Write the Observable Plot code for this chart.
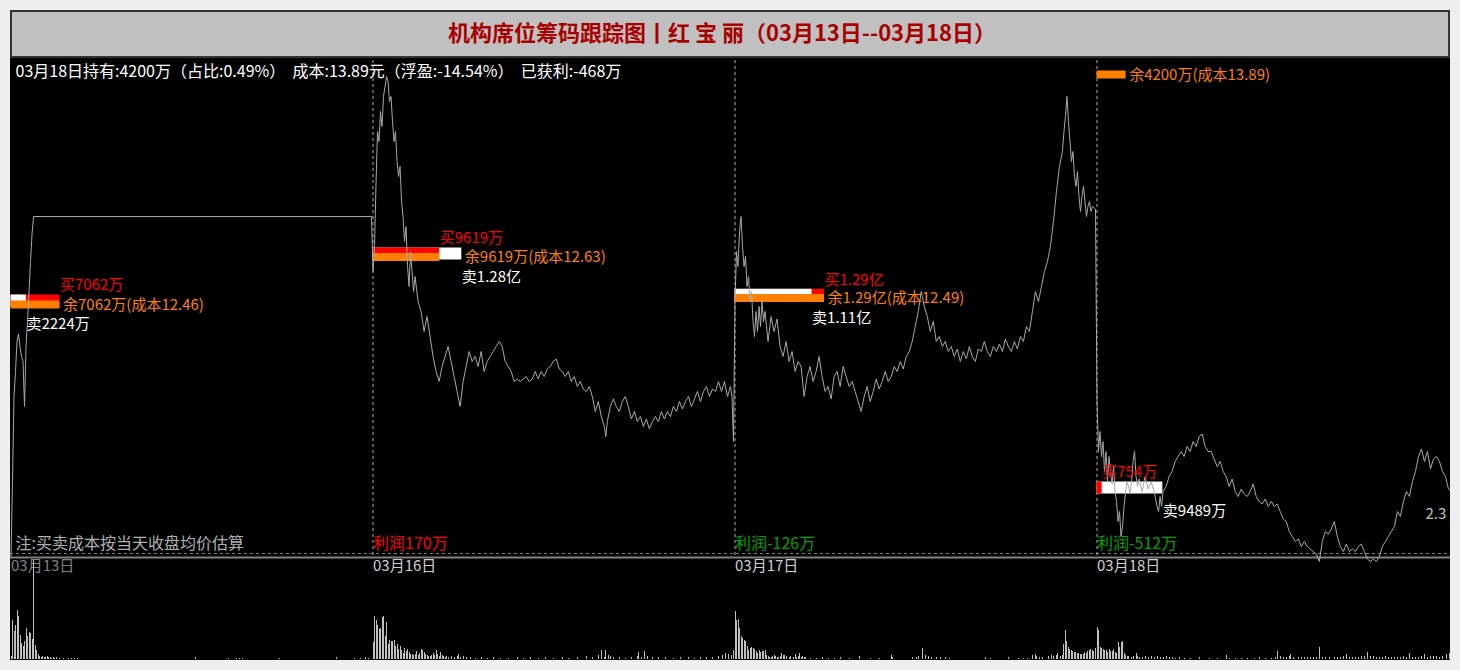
<!DOCTYPE html>
<html><head><meta charset="utf-8">
<script src="https://cdn.jsdelivr.net/npm/d3@7"></script>
<script src="https://cdn.jsdelivr.net/npm/@observablehq/plot@0.6"></script>
<style>
html,body{margin:0;padding:0;background:#efefef;width:1460px;height:670px;overflow:hidden;font-family:'Noto Sans CJK SC',sans-serif;}
#frame{position:absolute;left:10px;top:10px;width:1440px;height:650px;background:#000;overflow:hidden;}
#title{position:absolute;left:0;top:0;width:1440px;height:48px;box-sizing:border-box;border:2px solid #333;background:#c0c0c0;color:#a80000;font-size:22px;font-weight:bold;text-align:center;line-height:38px;padding-right:16px;z-index:3;white-space:pre;}
#price{position:absolute;left:0;top:42px;z-index:1;}
#vol{position:absolute;left:0;top:545px;z-index:2;}
</style></head>
<body>
<div id="frame">
  <div id="title"></div>
  <div id="price"></div>
  <div id="vol"></div>
</div>
<script>
const titleText = "机构席位筹码跟踪图丨红 宝 丽（03月13日--03月18日）";
const summaryText = "03月18日持有:4200万（占比:0.49%）  成本:13.89元（浮盈:-14.54%）  已获利:-468万";
const noteText = "注:买卖成本按当天收盘均价估算";
const edgeText = "2.3";
const dayLabels = ["03月13日", "03月16日", "03月17日", "03月18日"];

// institutional seat activity per day (万元)
const buyAmt  = [7062, 9619, 12900, 754];
const sellAmt = [2224, 12800, 11100, 9489];
const holdAmt = [7062, 9619, 12900, 4200];
const holdCost = [12.46, 12.63, 12.49, 13.89];
const tradeLevel = [12.424, 12.612, 12.447, 11.676];
const holdLevel  = [12.408, 12.598, 12.434, 13.328];
const profit = [null, 170, -126, -512];
const refPrice = 11.412;
const priceFloor = 11.396;
const priceTop = 13.384;

// intraday price [minute, price]
const day1Price = [[0,11.40],[1,11.70],[2,12.04],[3,12.14],[4,12.26],[5,12.29],[6,12.24],[7,12.20],[8,12.18],[9,12.00],[10,12.24],[11,12.34],[12,12.46],[13,12.58],[14,12.69],[15,12.76],[240,12.76]];
const day2Price = [[0,12.54],[1,12.64],[2,12.89],[3,13.10],[4,13.06],[5,13.18],[6,13.12],[7,13.24],[8,13.28],[9,13.32],[10,13.30],[11,13.22],[12,13.24],[13,13.14],[14,13.06],[15,13.10],[16,12.98],[17,12.92],[18,12.96],[19,12.82],[20,12.76],[21,12.66],[22,12.72],[23,12.56],[24,12.48],[25,12.62],[26,12.54],[27,12.46],[28,12.52],[30,12.42],[32,12.38],[34,12.30],[36,12.36],[38,12.28],[40,12.20],[42,12.14],[44,12.10],[46,12.16],[48,12.20],[50,12.24],[52,12.18],[54,12.12],[56,12.06],[58,12.00],[60,12.10],[62,12.16],[64,12.22],[66,12.18],[68,12.20],[70,12.16],[72,12.22],[74,12.14],[76,12.18],[78,12.20],[80,12.22],[82,12.24],[84,12.26],[86,12.24],[88,12.18],[90,12.16],[92,12.14],[94,12.10],[96,12.11],[98,12.10],[100,12.11],[102,12.12],[104,12.10],[106,12.11],[108,12.14],[110,12.11],[112,12.14],[114,12.12],[116,12.15],[118,12.16],[120,12.18],[122,12.19],[124,12.15],[126,12.14],[128,12.12],[130,12.14],[132,12.10],[134,12.12],[136,12.08],[138,12.10],[140,12.07],[142,12.06],[144,12.08],[146,12.04],[148,11.98],[150,12.02],[152,11.96],[154,11.92],[155,11.88],[156,11.94],[158,12.00],[160,12.03],[162,12.00],[164,11.98],[166,12.02],[168,12.04],[170,12.00],[172,11.95],[174,11.98],[176,11.94],[178,11.96],[180,11.92],[182,11.95],[184,11.91],[186,11.94],[188,11.96],[190,11.94],[192,11.98],[194,11.95],[196,11.98],[198,11.96],[200,12.00],[202,11.98],[204,12.02],[206,11.99],[208,12.02],[210,12.04],[212,12.00],[214,12.03],[216,12.06],[218,12.02],[220,12.06],[222,12.08],[224,12.04],[226,12.07],[228,12.06],[230,12.10],[232,12.06],[234,12.10],[236,12.04],[238,12.08],[239,12.04],[240,11.86]];
const day3Price = [[0,12.42],[1,12.62],[2,12.56],[3,12.70],[4,12.76],[5,12.64],[6,12.56],[7,12.60],[8,12.48],[9,12.52],[10,12.42],[11,12.46],[12,12.34],[13,12.28],[14,12.38],[15,12.30],[16,12.40],[17,12.32],[18,12.42],[19,12.34],[20,12.38],[22,12.26],[24,12.36],[26,12.30],[28,12.35],[30,12.24],[32,12.20],[34,12.26],[36,12.18],[38,12.22],[40,12.14],[42,12.18],[44,12.16],[46,12.04],[48,12.12],[50,12.16],[52,12.10],[54,12.14],[56,12.20],[58,12.12],[60,12.06],[62,12.08],[64,12.03],[66,12.12],[68,12.14],[70,12.08],[72,12.16],[74,12.12],[76,12.08],[78,12.10],[80,12.06],[82,12.02],[84,11.98],[86,12.04],[88,12.08],[90,12.02],[92,12.06],[94,12.11],[96,12.07],[98,12.10],[100,12.14],[102,12.10],[104,12.12],[106,12.16],[108,12.14],[110,12.18],[112,12.15],[114,12.20],[116,12.22],[118,12.26],[120,12.32],[122,12.38],[124,12.46],[126,12.40],[128,12.36],[130,12.30],[132,12.34],[134,12.26],[136,12.28],[138,12.24],[140,12.26],[142,12.22],[144,12.24],[146,12.20],[148,12.23],[150,12.18],[152,12.22],[154,12.19],[156,12.24],[158,12.20],[160,12.18],[162,12.23],[164,12.22],[166,12.26],[168,12.22],[170,12.20],[172,12.24],[174,12.22],[176,12.25],[178,12.22],[180,12.27],[182,12.24],[184,12.22],[186,12.26],[188,12.23],[190,12.28],[192,12.26],[194,12.32],[196,12.30],[198,12.38],[200,12.46],[202,12.42],[204,12.48],[206,12.54],[208,12.58],[210,12.64],[212,12.74],[214,12.86],[216,12.96],[218,13.02],[219,13.10],[220,13.16],[221,13.24],[222,13.14],[223,13.06],[224,12.98],[225,13.02],[226,12.92],[227,12.88],[228,12.94],[229,12.84],[230,12.78],[231,12.84],[232,12.88],[233,12.82],[234,12.76],[235,12.80],[236,12.82],[237,12.78],[238,12.80],[240,12.79]];
const day4Price = [[0,12.02],[1,11.82],[2,11.90],[3,11.80],[4,11.86],[5,11.74],[6,11.82],[7,11.70],[8,11.80],[9,11.74],[10,11.69],[11,11.76],[12,11.66],[13,11.62],[14,11.54],[15,11.58],[16,11.48],[17,11.52],[18,11.60],[19,11.66],[20,11.70],[21,11.68],[22,11.65],[23,11.70],[24,11.78],[25,11.82],[26,11.72],[27,11.68],[28,11.71],[30,11.66],[32,11.72],[34,11.67],[36,11.70],[38,11.66],[40,11.60],[41,11.58],[42,11.64],[43,11.60],[44,11.66],[46,11.68],[48,11.72],[50,11.74],[52,11.78],[54,11.80],[56,11.82],[58,11.80],[60,11.84],[62,11.82],[64,11.86],[66,11.84],[68,11.88],[70,11.89],[72,11.84],[74,11.82],[76,11.82],[78,11.79],[80,11.76],[82,11.78],[84,11.74],[86,11.72],[88,11.68],[90,11.71],[92,11.66],[94,11.64],[96,11.67],[98,11.65],[100,11.64],[102,11.66],[104,11.69],[106,11.64],[108,11.62],[110,11.61],[112,11.63],[114,11.60],[116,11.62],[118,11.60],[120,11.61],[122,11.58],[124,11.55],[126,11.54],[128,11.50],[130,11.48],[132,11.46],[134,11.47],[136,11.44],[138,11.46],[140,11.44],[142,11.43],[144,11.42],[146,11.41],[148,11.38],[150,11.46],[152,11.50],[154,11.49],[156,11.51],[158,11.54],[160,11.48],[162,11.44],[164,11.42],[166,11.45],[168,11.42],[170,11.43],[172,11.42],[174,11.44],[176,11.45],[178,11.42],[180,11.39],[182,11.38],[184,11.39],[186,11.38],[188,11.40],[190,11.44],[192,11.46],[194,11.48],[196,11.50],[198,11.52],[200,11.58],[202,11.56],[204,11.62],[206,11.66],[208,11.64],[210,11.70],[212,11.74],[214,11.80],[216,11.83],[218,11.78],[220,11.82],[222,11.75],[224,11.79],[226,11.80],[228,11.78],[230,11.74],[232,11.72],[234,11.67],[236,11.66]];

// per-minute volume [minute, volume (百手)]
const day1Vol = [[0,3],[1,39],[2,28],[3,34],[4,49],[5,43],[6,24],[7,16],[8,13],[9,18],[10,31],[11,23],[12,27],[13,26],[14,20],[15,99],[16,14],[17,9],[18,5],[19,3],[20,2],[21,3],[22,2],[23,2],[24,3],[25,2],[26,2],[27,1],[28,2],[29,1],[30,2],[32,1],[35,1],[38,1],[40,1],[42,1],[44,1],[123,2],[145,1],[150,1],[152,1],[154,1],[179,1],[217,2],[229,1],[233,1],[236,2],[238,1]];
const day2Vol = [[0,17],[1,43],[2,39],[3,34],[4,30],[5,31],[6,42],[7,43],[8,23],[9,37],[10,15],[11,19],[12,18],[13,18],[14,19],[15,13],[16,15],[17,10],[18,13],[19,9],[20,6],[21,11],[22,8],[23,10],[24,7],[25,5],[26,5],[27,4],[28,5],[29,8],[30,4],[31,6],[32,10],[33,9],[34,7],[35,5],[36,4],[37,3],[38,3],[39,4],[40,6],[41,4],[42,9],[43,5],[44,3],[45,7],[46,4],[47,3],[48,2],[49,3],[50,2],[52,3],[54,2],[56,3],[57,5],[58,2],[60,3],[62,2],[65,2],[68,1],[72,2],[76,1],[80,2],[85,1],[90,1],[96,2],[100,1],[105,2],[110,1],[115,2],[120,1],[126,2],[130,1],[136,2],[142,3],[146,2],[150,4],[152,9],[154,2],[155,9],[157,4],[158,3],[160,2],[164,2],[168,1],[172,2],[176,3],[177,7],[179,2],[181,8],[183,3],[186,2],[190,2],[195,2],[200,1],[205,2],[210,2],[214,1],[218,2],[222,2],[226,2],[230,3],[233,4],[235,6],[237,5],[239,4],[240,9]];
const day3Vol = [[0,48],[1,39],[2,40],[3,31],[4,23],[5,21],[6,19],[7,18],[8,13],[9,9],[10,11],[11,12],[12,11],[13,10],[14,8],[15,6],[16,9],[17,7],[18,8],[19,8],[20,9],[21,4],[22,3],[23,2],[24,2],[25,3],[26,4],[27,3],[28,2],[29,2],[30,3],[31,6],[32,4],[33,4],[34,3],[36,2],[37,3],[39,2],[40,5],[41,2],[42,3],[43,6],[44,2],[45,3],[46,2],[47,2],[50,1],[54,1],[58,2],[62,1],[66,1],[70,2],[76,1],[83,3],[90,1],[96,1],[104,4],[105,2],[118,2],[121,2],[122,3],[125,11],[127,4],[129,3],[131,2],[134,2],[137,2],[140,2],[143,1],[167,2],[170,1],[182,2],[189,1],[192,1],[195,1],[198,4],[200,5],[201,3],[203,2],[205,2],[209,3],[211,4],[212,3],[214,4],[215,6],[217,3],[218,4],[219,15],[220,29],[221,18],[222,12],[223,10],[224,9],[225,8],[226,7],[227,7],[228,6],[229,6],[230,5],[231,5],[232,5],[233,7],[234,6],[235,8],[236,9],[237,10],[238,9],[239,8],[240,11]];
const day4Vol = [[0,32],[1,29],[2,12],[3,11],[4,10],[5,9],[6,9],[7,7],[8,10],[9,8],[10,8],[11,10],[12,7],[13,6],[14,17],[15,12],[16,17],[17,18],[18,6],[19,4],[20,3],[21,3],[23,2],[24,3],[26,6],[27,3],[28,2],[30,2],[32,3],[34,2],[36,3],[38,2],[40,3],[42,2],[44,2],[46,3],[48,2],[50,2],[52,1],[55,2],[58,1],[62,1],[68,2],[75,1],[80,1],[86,4],[88,1],[92,1],[96,1],[100,1],[105,1],[108,2],[112,1],[116,1],[119,2],[120,8],[122,3],[124,2],[126,2],[128,3],[129,5],[131,2],[134,2],[136,2],[138,2],[140,2],[142,2],[144,2],[146,2],[148,12],[150,2],[152,2],[155,2],[158,2],[160,2],[162,2],[164,3],[166,5],[168,2],[170,2],[172,2],[174,2],[176,3],[178,3],[180,7],[182,3],[184,3],[186,2],[188,2],[190,2],[192,3],[194,2],[196,2],[198,2],[200,2],[202,2],[204,3],[206,2],[208,6],[210,2],[212,2],[214,2],[216,3],[218,5],[220,2],[222,3],[224,3],[226,3],[228,2],[230,3],[233,5],[235,6]];

const MPD = 241;              // minutes per trading day
const K = 0.00462;            // bar length: axis minutes per 万元
const FONT = "'Noto Sans CJK SC','Noto Sans',sans-serif";
const RED = "#ff0000", WHITE = "#ffffff", ORANGE = "#ff8000", GREEN = "#00a000";

document.getElementById("title").textContent = titleText;

const priceData = [day1Price, day2Price, day3Price, day4Price].flatMap((arr, d) => arr.map(([m, p]) => ({g: d * MPD + m, p})));
const volData = [day1Vol, day2Vol, day3Vol, day4Vol].flatMap((arr, d) => arr.map(([m, v]) => ({g: d * MPD + m, v})));

const days = dayLabels.map((label, i) => ({
  i, label, g0: i * MPD, buy: buyAmt[i], sell: sellAmt[i], hold: holdAmt[i], cost: holdCost[i],
  trade: tradeLevel[i], holdY: holdLevel[i], profit: profit[i]
}));
const fmtAmt = v => v >= 10000 ? (v / 10000).toFixed(2) + "亿" : v + "万";

const tradeBars = days.flatMap(d => [
  {g0: d.g0, amt: d.buy, color: RED, y: d.trade},
  {g0: d.g0, amt: d.sell, color: WHITE, y: d.trade}
].sort((a, b) => b.amt - a.amt));

const xOpt = {domain: [0, 4 * MPD], range: [0.5, 0.5 + 4 * 362], axis: null};

const pricePlot = Plot.plot({
  width: 1440, height: 526,
  marginTop: 8, marginBottom: 21, marginLeft: 0, marginRight: 0,
  style: {background: "transparent", fontFamily: FONT, overflow: "visible"},
  x: xOpt,
  y: {domain: [priceFloor, priceTop], axis: null},
  marks: [
    Plot.ruleX(days.slice(1), {x: "g0", stroke: "#b0b0b0", strokeDasharray: "3,3"}),
    Plot.ruleY([refPrice], {stroke: "#808080", strokeDasharray: "3,3"}),
    Plot.ruleY([priceFloor], {stroke: "#808080", strokeWidth: 2}),
    Plot.ruleY(tradeBars, {y: "y", x1: "g0", x2: d => d.g0 + d.amt * K, stroke: "color", strokeWidth: 12}),
    Plot.ruleY(days, {y: "holdY", x1: "g0", x2: d => d.g0 + d.hold * K, stroke: ORANGE, strokeWidth: 8}),
    Plot.line(priceData, {x: "g", y: "p", stroke: "#a8a8a8", strokeWidth: 1}),
    Plot.text(days, {x: d => d.g0 + d.buy * K, y: "trade", dy: -15, text: d => "买" + fmtAmt(d.buy), fill: RED, textAnchor: "start", fontSize: 15, fontFamily: FONT}),
    Plot.text(days, {x: d => d.g0 + d.sell * K, y: "trade", dy: 23.5, text: d => "卖" + fmtAmt(d.sell), fill: WHITE, textAnchor: "start", fontSize: 15, fontFamily: FONT}),
    Plot.text(days, {
      x: d => d.g0 + (Math.abs(d.holdY - d.trade) < 0.05 ? Math.max(d.hold, d.buy, d.sell) : d.hold) * K,
      y: "holdY", dx: 3, dy: 0.5,
      text: d => "余" + fmtAmt(d.hold) + "(成本" + d.cost.toFixed(2) + ")",
      fill: ORANGE, textAnchor: "start", fontSize: 15, fontFamily: FONT
    }),
    Plot.text(days.filter(d => d.profit != null), {x: "g0", frameAnchor: "bottom", dy: -8.5, text: d => "利润" + d.profit + "万", fill: d => d.profit >= 0 ? RED : GREEN, textAnchor: "start", fontSize: 16, fontFamily: FONT}),
    Plot.text([noteText], {frameAnchor: "bottom-left", dx: 5, dy: -8.5, text: d => d, fill: "#b0b0b0", textAnchor: "start", fontSize: 16, fontFamily: FONT}),
    Plot.text(days, {x: "g0", frameAnchor: "bottom", dy: 13, text: "label", fill: d => d.i === 0 ? "#808080" : "#d0d0d0", textAnchor: "start", fontSize: 15, fontFamily: FONT}),
    Plot.text([summaryText], {frameAnchor: "top-left", dx: 5, dy: 5, text: d => d, fill: WHITE, textAnchor: "start", fontSize: 16, fontFamily: FONT}),
    Plot.text([edgeText], {frameAnchor: "bottom-right", dx: -25, dy: -39, text: d => d, fill: "#c0c0c0", textAnchor: "start", fontSize: 15, fontFamily: FONT})
  ]
});
document.getElementById("price").appendChild(pricePlot);

const volPlot = Plot.plot({
  width: 1440, height: 105,
  marginTop: 0, marginBottom: 1, marginLeft: 0, marginRight: 0,
  style: {background: "transparent", overflow: "visible"},
  x: xOpt,
  y: {domain: [0, 99], range: [104, 5], axis: null},
  marks: [
    Plot.ruleX(volData, {x: "g", y1: 0, y2: "v", stroke: "#c0c0c0", strokeWidth: 1, shapeRendering: "crispEdges"})
  ]
});
document.getElementById("vol").appendChild(volPlot);
</script>
</body></html>
